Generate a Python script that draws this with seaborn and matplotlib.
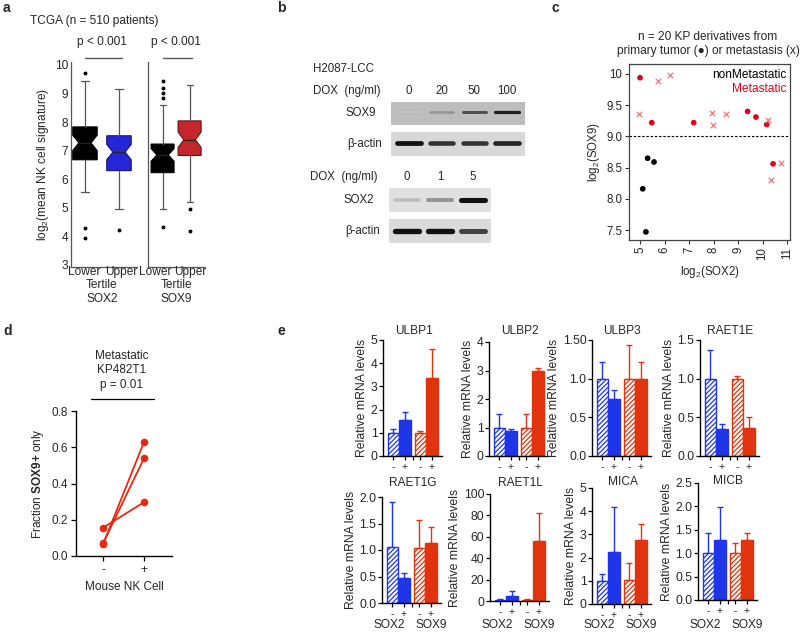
import numpy as np
import pandas as pd
import matplotlib
matplotlib.use("Agg")
import matplotlib.pyplot as plt
from matplotlib.lines import Line2D
from matplotlib.transforms import blended_transform_factory
import seaborn as sns

sns.set_theme(style="ticks")
plt.rcParams['font.family'] = ['Liberation Sans', 'DejaVu Sans']
plt.rcParams['mathtext.fontset'] = 'custom'
plt.rcParams['mathtext.rm'] = 'Liberation Sans'
plt.rcParams['mathtext.bf'] = 'Liberation Sans:bold'
plt.rcParams['mathtext.it'] = 'Liberation Sans:italic'
plt.rcParams['hatch.linewidth'] = 0.9
plt.rcParams['axes.linewidth'] = 0.9

# ---------------- data ----------------
# panel a : TCGA NK signature by SOX2 / SOX9 tertile (box summary)
a_genes = ["SOX2", "SOX9"]
a_tertiles = ["Lower", "Upper"]
a_q1 = [[6.68, 6.30], [6.23, 6.83]]
a_median = [[7.27, 6.95], [6.85, 7.38]]
a_q3 = [[7.83, 7.52], [7.23, 8.04]]
a_whislo = [[5.56, 4.96], [4.96, 5.22]]
a_whishi = [[9.44, 9.16], [8.60, 9.28]]
a_notch = [[0.27, 0.27], [0.22, 0.27]]
a_fliers = [[[9.72, 4.30, 3.95], [4.23]],
            [[9.42, 9.20, 9.02, 8.85, 4.33], [4.96, 4.20]]]
a_pvals = ["p < 0.001", "p < 0.001"]

# panel b : western blots (band intensity, 0-1)
b_sox9_dox = ["0", "20", "50", "100"]
b_sox9_band = [0.10, 0.45, 0.75, 0.90]
b_actin1_band = [0.95, 0.85, 0.85, 0.90]
b_sox2_dox = ["0", "1", "5"]
b_sox2_band = [0.30, 0.50, 0.95]
b_actin2_band = [0.95, 0.95, 0.80]

# panel c : KP derivatives
c_sox2 = [5.11, 5.24, 5.31, 5.57,
          5.00, 5.48, 7.19, 9.39, 9.73, 10.17, 10.43,
          4.95, 5.73, 6.24, 7.93, 7.96, 8.51, 10.21, 10.35, 10.74]
c_sox9 = [8.16, 7.47, 8.65, 8.59,
          9.94, 9.22, 9.22, 9.40, 9.31, 9.19, 8.56,
          9.36, 9.88, 9.99, 9.37, 9.18, 9.36, 9.26, 8.30, 8.58]
c_origin = ["primary"] * 11 + ["metastasis"] * 9
c_status = ["nonMetastatic"] * 4 + ["Metastatic"] * 16
c_threshold = 9.0

# panel d : fraction SOX9+ only, paired replicates
d_nk = ["-", "+"]
d_minus = [0.156, 0.070, 0.065]
d_plus = [0.297, 0.540, 0.630]

# panel e : relative mRNA levels (order: SOX2 -, SOX2 +, SOX9 -, SOX9 +)
e_genes = ["ULBP1", "ULBP2", "ULBP3", "RAET1E", "RAET1G", "RAET1L", "MICA", "MICB"]
e_groups = ["SOX2", "SOX2", "SOX9", "SOX9"]
e_dox = ["-", "+", "-", "+"]
e_means = [[1.00, 1.55, 1.00, 3.35],
           [1.00, 0.87, 1.00, 3.00],
           [1.00, 0.74, 1.00, 1.00],
           [1.00, 0.35, 1.00, 0.36],
           [1.05, 0.48, 1.03, 1.14],
           [1.0, 5.0, 1.2, 56.0],
           [1.00, 2.24, 1.02, 2.77],
           [1.00, 1.28, 1.00, 1.29]]
e_tops = [[1.17, 1.91, 1.08, 4.61],
          [1.47, 0.95, 1.48, 3.08],
          [1.22, 0.85, 1.43, 1.21],
          [1.37, 0.42, 1.03, 0.50],
          [1.91, 0.56, 1.57, 1.43],
          [1.8, 9.0, 1.5, 82.0],
          [1.29, 4.18, 1.77, 3.45],
          [1.43, 1.98, 1.21, 1.43]]
e_yticks = [[0, 1, 2, 3, 4, 5], [0, 1, 2, 3, 4], [0, 0.5, 1.0, 1.5], [0, 0.5, 1.0, 1.5],
            [0, 0.5, 1.0, 1.5, 2.0], [0, 20, 40, 60, 80, 100], [0, 1, 2, 3, 4, 5],
            [0, 0.5, 1.0, 1.5, 2.0, 2.5]]
e_yticklabels = [["0", "1", "2", "3", "4", "5"], ["0", "1", "2", "3", "4"],
                 ["0.0", "0.5", "1.0", "1.50"], ["0.0", "0.5", "1.0", "1.5"],
                 ["0.0", "0.5", "1.0", "1.5", "2.0"], ["0", "20", "40", "60", "80", "100"],
                 ["0", "1", "2", "3", "4", "5"], ["0.0", "0.5", "1.0", "1.5", "2.0", "2.5"]]

# ---------------- layout helpers ----------------
W, H = 800, 632
fig = plt.figure(figsize=(8, 6.32), dpi=100)
fig.patch.set_facecolor("white")


def px_rect(x0, y0, x1, y1):
    return [x0 / W, 1 - y1 / H, (x1 - x0) / W, (y1 - y0) / H]


def ftext(x, y, s, **kw):
    kw.setdefault('ha', 'center')
    kw.setdefault('va', 'center')
    return fig.text(x / W, 1 - y / H, s, **kw)


def fline(x0, x1, y, **kw):
    fig.add_artist(Line2D([x0 / W, x1 / W], [1 - y / H, 1 - y / H],
                          transform=fig.transFigure, **kw))


def fy(y):
    return 1 - y / H


# panel letters
for lab, x, y in [("a", 3, 8), ("b", 277, 8), ("c", 551, 8), ("d", 3, 331), ("e", 278, 331)]:
    ftext(x, y, lab, fontsize=10, fontweight="bold", ha="left")

# ---------------- panel a ----------------
ftext(30, 21, "TCGA (n = 510 patients)", fontsize=8.6, ha="left")
a_rects = [(71, 62, 137, 267), (148, 62, 205, 267)]
a_xlims = [(-0.41, 1.53), (-0.54, 1.57)]
a_widths = [0.72, 0.85]
a_label_x = [[84, 121], [155, 190]]
a_face = [["black", "#2626d9"], ["black", "#c4262b"]]
a_edge = [["black", "#141470"], ["black", "#5a1010"]]
for gi in range(2):
    ax = fig.add_axes(px_rect(*a_rects[gi]))
    stats = []
    for ti in range(2):
        med = a_median[gi][ti]
        stats.append(dict(med=med, q1=a_q1[gi][ti], q3=a_q3[gi][ti],
                          whislo=a_whislo[gi][ti], whishi=a_whishi[gi][ti],
                          fliers=np.array(a_fliers[gi][ti]),
                          cilo=med - a_notch[gi][ti], cihi=med + a_notch[gi][ti]))
    bp = ax.bxp(stats, positions=[0, 1], widths=a_widths[gi], capwidths=0.22,
                shownotches=True, patch_artist=True, showfliers=True,
                whiskerprops=dict(color="#555555", lw=0.9),
                capprops=dict(color="#555555", lw=0.9),
                medianprops=dict(color="#222222", lw=0.9),
                flierprops=dict(marker="o", markersize=1.8, markerfacecolor="black",
                                markeredgecolor="black", linestyle="none"))
    for ti, box in enumerate(bp["boxes"]):
        box.set_facecolor(a_face[gi][ti])
        box.set_edgecolor(a_edge[gi][ti])
        box.set_linewidth(0.8)
    ax.set_xlim(*a_xlims[gi])
    ax.set_ylim(2.93, 10.1)
    ax.set_facecolor("white")
    sns.despine(ax=ax)
    for s in ["left", "bottom"]:
        ax.spines[s].set_color("#555555")
        ax.spines[s].set_linewidth(0.9)
    ax.set_xticks([])
    for ti in range(2):
        ftext(a_label_x[gi][ti], 272, a_tertiles[ti], fontsize=8.6)
    if gi == 0:
        ax.set_yticks(range(3, 11))
        ax.set_yticklabels([str(v) for v in range(3, 11)], fontsize=8.6)
        ax.tick_params(axis="y", length=0, pad=2)
        ax.set_ylabel(r"log$_2$(mean NK cell signature)", fontsize=8.6, labelpad=3)
    else:
        ax.set_yticks([])
    tr = blended_transform_factory(ax.transData, fig.transFigure)
    ax.text(0.5, fy(285), "Tertile", transform=tr, ha="center", va="center", fontsize=8.6)
    ax.text(0.5, fy(299), a_genes[gi], transform=tr, ha="center", va="center", fontsize=8.6)
    ax.text(0.5, fy(42), a_pvals[gi], transform=tr, ha="center", va="center", fontsize=8.6)
    ax.plot([0.0, 1.08], [fy(58), fy(58)], transform=tr, color="#555555", lw=1.0,
            clip_on=False)

# ---------------- panel b ----------------
ftext(313, 69, "H2087-LCC", fontsize=8.3, ha="left")
ftext(313, 91, "DOX  (ng/ml)", fontsize=8.3, ha="left")
ftext(310, 177, "DOX  (ng/ml)", fontsize=8.3, ha="left")


def blot(rect, bands, bg, thick, yoff=0.5, label=None, label_x=None, dox=None, dox_y=None):
    ax = fig.add_axes(px_rect(*rect))
    n = len(bands)
    ax.set_xlim(-0.55, n - 0.45)
    ax.set_ylim(0, 1)
    ax.set_facecolor(bg)
    for s in ax.spines.values():
        s.set_visible(False)
    ax.set_xticks([])
    ax.set_yticks([])
    cmap = plt.get_cmap("Greys")
    for i, v in enumerate(bands):
        ax.plot([i - 0.36, i + 0.36], [yoff, yoff], color=cmap(0.25 + 0.75 * v),
                lw=thick * (0.6 + 0.5 * v), solid_capstyle="round", alpha=0.35 + 0.65 * v)
    tr = blended_transform_factory(fig.transFigure, ax.transAxes)
    if label:
        ax.text(label_x / W, 0.5, label, transform=tr, ha="right", va="center", fontsize=8.3)
    if dox is not None:
        trd = blended_transform_factory(ax.transData, fig.transFigure)
        for i, d in enumerate(dox):
            ax.text(i, fy(dox_y), d, transform=trd, ha="center", va="center", fontsize=8.3)
    return ax


blot((391, 102, 525, 125), b_sox9_band, "#bdbdbd", 2.2, 0.55, "SOX9", 376, b_sox9_dox, 91)
blot((391, 132, 525, 156), b_actin1_band, "#d8d8d8", 3.2, 0.55, "β-actin", 382)
blot((389, 188, 491, 212), b_sox2_band, "#e0e0e0", 3.4, 0.5, "SOX2", 374, b_sox2_dox, 177)
blot((389, 219, 491, 243), b_actin2_band, "#dadada", 3.6, 0.5, "β-actin", 380)

# ---------------- panel c ----------------
axc = fig.add_axes(px_rect(629, 64, 790, 240))
dfc = pd.DataFrame(dict(sox2=c_sox2, sox9=c_sox9, origin=c_origin, status=c_status))
sns.scatterplot(data=dfc[dfc.origin == "primary"], x="sox2", y="sox9", hue="status",
                palette={"nonMetastatic": "black", "Metastatic": "#e3001b"},
                s=17, edgecolor="none", legend=False, ax=axc, zorder=3)
sns.scatterplot(data=dfc[dfc.origin == "metastasis"], x="sox2", y="sox9",
                color="#f07878", marker="x", s=16, linewidth=0.9, legend=False, ax=axc,
                zorder=3)
axc.axhline(c_threshold, ls=(0, (2.2, 1.6)), color="black", lw=0.8)
axc.set_xlim(4.55, 11.12)
axc.set_ylim(7.34, 10.16)
axc.set_xticks(range(5, 12))
axc.set_xticklabels([str(v) for v in range(5, 12)], rotation=90, fontsize=8.3)
axc.set_yticks([7.5, 8.0, 8.5, 9.0, 9.5, 10.0])
axc.set_yticklabels(["7.5", "8.0", "8.5", "9.0", "9.5", "10"], fontsize=8.3)
axc.tick_params(length=3, width=0.8, pad=2, color="#333333")
for s in axc.spines.values():
    s.set_color("#444444")
    s.set_linewidth(0.9)
axc.set_xlabel(r"log$_2$(SOX2)", fontsize=8.3, labelpad=3)
axc.set_ylabel(r"log$_2$(SOX9)", fontsize=8.3, labelpad=3)
ftext(708, 37, "n = 20 KP derivatives from", fontsize=8.6)
ftext(708, 51, "primary tumor (●) or metastasis (x)", fontsize=8.6)
axc.text(0.98, 0.94, "nonMetastatic", transform=axc.transAxes, ha="right", va="center",
         fontsize=8.6, color="black")
axc.text(0.98, 0.86, "Metastatic", transform=axc.transAxes, ha="right", va="center",
         fontsize=8.6, color="#e3001b")

# ---------------- panel d ----------------
axd = fig.add_axes(px_rect(76, 411, 172, 556))
n_rep = len(d_minus)
dfd = pd.DataFrame(dict(nk=[0] * n_rep + [1] * n_rep, frac=d_minus + d_plus,
                        rep=list(range(n_rep)) * 2))
sns.lineplot(data=dfd, x="nk", y="frac", units="rep", estimator=None, marker="o",
             color="#e8280f", lw=1.3, markersize=5.5, markeredgewidth=0, ax=axd)
axd.set_xlim(-0.66, 1.68)
axd.set_ylim(0, 0.8)
axd.set_xticks([0, 1])
axd.set_xticklabels(d_nk, fontsize=8.5)
axd.set_yticks([0, 0.2, 0.4, 0.6, 0.8])
axd.set_yticklabels(["0.0", "0.2", "0.4", "0.6", "0.8"], fontsize=8.5)
axd.tick_params(length=3.5, width=0.9, pad=2, color="black")
sns.despine(ax=axd)
for s in ["left", "bottom"]:
    axd.spines[s].set_color("black")
    axd.spines[s].set_linewidth(1.0)
axd.set_xlabel("Mouse NK Cell", fontsize=8.5, labelpad=4)
axd.set_ylabel(r"Fraction $\bf{SOX9}$$\bf{+}$ only", fontsize=8.5, labelpad=4)
ftext(122, 356, "Metastatic", fontsize=8.5)
ftext(122, 370, "KP482T1", fontsize=8.5)
ftext(122, 385, "p = 0.01", fontsize=8.5)
fline(91, 154, 399, color="black", lw=0.9)

# ---------------- panel e ----------------
e_rects = [(383, 340, 442, 456), (489, 342, 548, 456), (592, 340, 651, 456), (700, 340, 759, 456),
           (382, 497, 441, 603), (490, 494, 549, 601), (592, 488, 651, 604), (698, 483, 757, 600)]
e_title_y = [331, 331, 331, 331, 483, 483, 482, 481]
e_group_label_x = [-0.33, 1.22]
blue, red = "#1f35e8", "#e1330d"
e_colors = [blue, blue, red, red]
for k, gene in enumerate(e_genes):
    ax = fig.add_axes(px_rect(*e_rects[k]))
    dfe = pd.DataFrame(dict(group=e_groups, dox=e_dox, level=e_means[k]))
    sns.barplot(data=dfe, x="group", y="level", hue="dox", order=["SOX2", "SOX9"],
                hue_order=["-", "+"], width=0.85, errorbar=None, legend=False,
                saturation=1, ax=ax)
    bars = sorted([p for p in ax.patches], key=lambda p: p.get_x())
    centers = []
    for j, p in enumerate(bars):
        c = e_colors[j]
        p.set_edgecolor(c)
        p.set_linewidth(1.0)
        p.set_zorder(2)
        if j % 2 == 0:
            p.set_facecolor("white")
            p.set_hatch("///////")
        else:
            p.set_facecolor(c)
        cx = p.get_x() + p.get_width() / 2
        centers.append(cx)
        ax.errorbar([cx], [e_means[k][j]], yerr=[[0], [e_tops[k][j] - e_means[k][j]]],
                    fmt="none", ecolor=c, elinewidth=1.0, capsize=2.5, capthick=1.0,
                    zorder=1.5)
    ymax = e_yticks[k][-1]
    ax.set_ylim(0, ymax)
    ax.set_xlim(-0.6, 1.59)
    ax.set_yticks(e_yticks[k])
    ax.set_yticklabels(e_yticklabels[k], fontsize=8.8)
    ax.set_xticks(centers)
    ax.set_xticklabels(e_dox, fontsize=7.5)
    ax.set_xticks([0.5], minor=True)
    ax.tick_params(axis="both", which="both", length=3, width=0.9, color="black", pad=1.5)
    ax.tick_params(axis="y", pad=1)
    sns.despine(ax=ax)
    for s in ["left", "bottom"]:
        ax.spines[s].set_color("black")
        ax.spines[s].set_linewidth(1.0)
    ax.set_xlabel("")
    ax.set_ylabel("Relative mRNA levels", fontsize=8.8, labelpad=2)
    ax.set_facecolor("white")
    xc = (e_rects[k][0] + e_rects[k][2]) / 2
    ftext(xc + 1, e_title_y[k], gene, fontsize=8.6)
    if k >= 4:
        tr = blended_transform_factory(ax.transData, fig.transFigure)
        for gx, g in zip(e_group_label_x, ["SOX2", "SOX9"]):
            ax.text(gx, fy(625), g, transform=tr, ha="center", va="center", fontsize=8.6)

fig.savefig("out.png", dpi=100, facecolor="white")
